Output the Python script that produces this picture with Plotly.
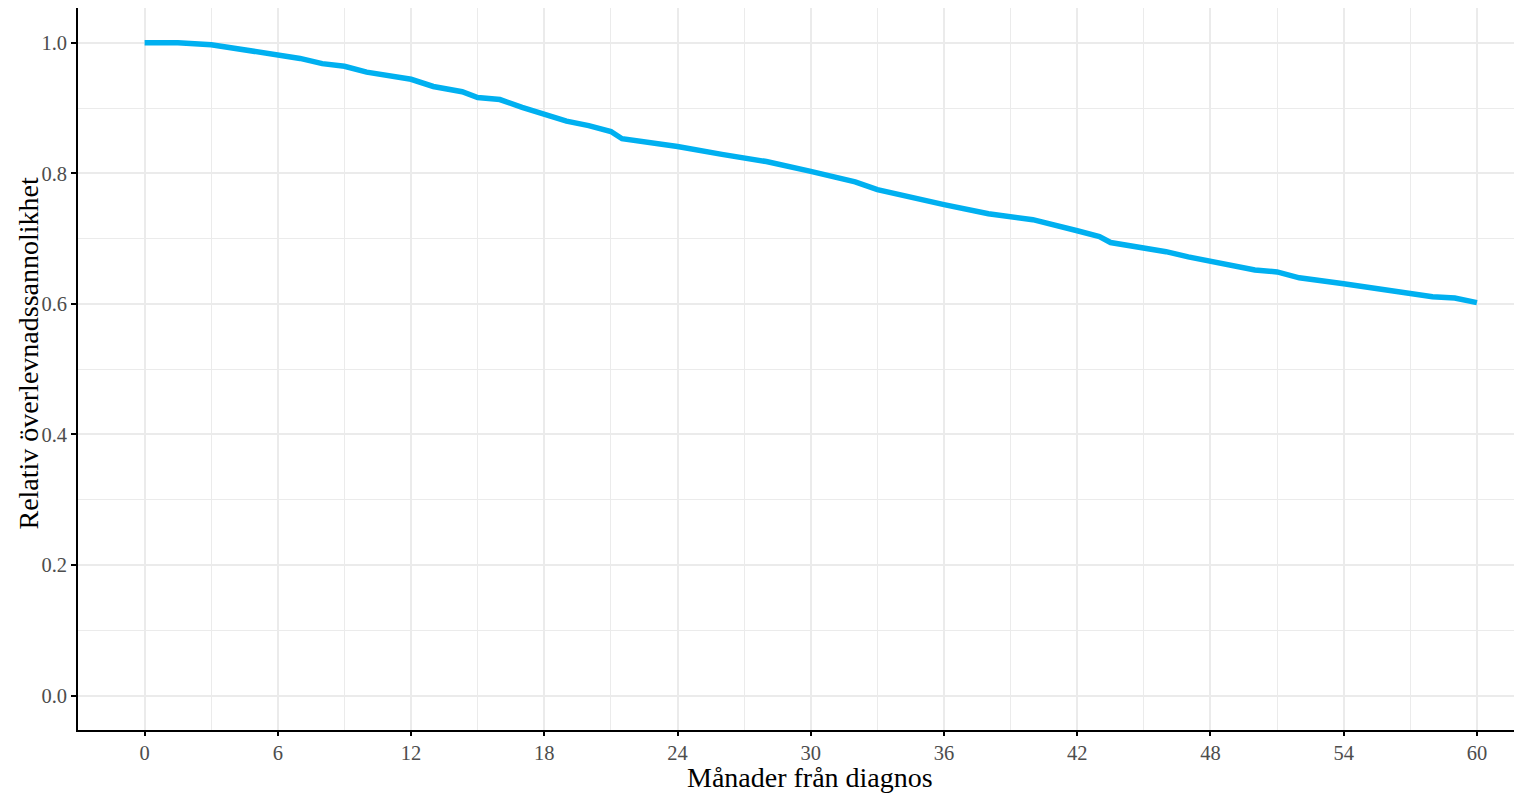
import plotly.graph_objects as go

months = [0, 1.5, 3, 4, 6, 7, 8, 9, 10, 12, 13, 14.3, 15, 16, 17, 18, 19, 20, 21, 21.5,
          24, 26, 28, 30, 32, 33, 34.5, 36, 38, 40, 42, 43, 43.5, 46, 47, 48, 50, 51,
          52, 54, 56, 58, 59, 60]
survival = [1.0, 1.0, 0.997, 0.992, 0.982, 0.976, 0.968, 0.964, 0.955, 0.944, 0.933, 0.925,
            0.916, 0.913, 0.901, 0.891, 0.880, 0.873, 0.864, 0.853, 0.841, 0.829, 0.818,
            0.803, 0.787, 0.775, 0.763, 0.752, 0.738, 0.729, 0.712, 0.703, 0.694, 0.680,
            0.672, 0.666, 0.652, 0.649, 0.640, 0.631, 0.620, 0.611, 0.609, 0.602]

x_ticks = list(range(0, 61, 6))
y_ticks = [0.0, 0.2, 0.4, 0.6, 0.8, 1.0]
y_tick_labels = ["0.0", "0.2", "0.4", "0.6", "0.8", "1.0"]
x_title = "Månader från diagnos"
y_title = "Relativ överlevnadssannolikhet"

fig = go.Figure()
fig.add_trace(go.Scatter(x=months, y=survival, mode="lines",
                         line=dict(color="#00B0F0", width=5.5, shape="linear"),
                         showlegend=False))

font_family = "Liberation Serif"
grid_col = "#EBEBEB"

# page body adds an 8px margin, so the figure is sized to fit the 1522x793 window
fig.update_layout(
    width=1514, height=785,
    margin=dict(l=70, r=0, t=0, b=63),
    paper_bgcolor="white", plot_bgcolor="white",
    font=dict(family=font_family, color="black"),
)
fig.update_xaxes(
    range=[-3.0, 62.03], tickvals=x_ticks, ticktext=[str(v) for v in x_ticks],
    showgrid=True, gridcolor=grid_col, gridwidth=1.5,
    minor=dict(dtick=3, tick0=0, showgrid=True, gridcolor=grid_col, gridwidth=0.8, ticks=""),
    showline=True, linecolor="black", linewidth=1.7,
    ticks="outside", ticklen=4, tickwidth=1.6, tickcolor="black",
    tickfont=dict(family=font_family, size=20.5, color="#4D4D4D"),
    zeroline=False,
)
fig.update_yaxes(
    range=[-0.0526, 1.0532], tickvals=y_ticks, ticktext=y_tick_labels,
    showgrid=True, gridcolor=grid_col, gridwidth=1.5,
    minor=dict(dtick=0.1, tick0=0, showgrid=True, gridcolor=grid_col, gridwidth=0.8, ticks=""),
    showline=True, linecolor="black", linewidth=1.7,
    ticks="outside", ticklen=5, tickwidth=1.6, tickcolor="black",
    tickfont=dict(family=font_family, size=20.5, color="#4D4D4D"),
    zeroline=False,
)
fig.add_annotation(text=x_title, xref="paper", yref="paper", x=0.5069, y=-0.0651,
                   xanchor="center", yanchor="middle", showarrow=False,
                   font=dict(family=font_family, size=28, color="black"))
fig.add_annotation(text=y_title, xref="paper", yref="paper", x=-0.0346, y=0.5215,
                   xanchor="center", yanchor="middle", textangle=-90, showarrow=False,
                   font=dict(family=font_family, size=28, color="black"))

fig.write_html("out.html")
